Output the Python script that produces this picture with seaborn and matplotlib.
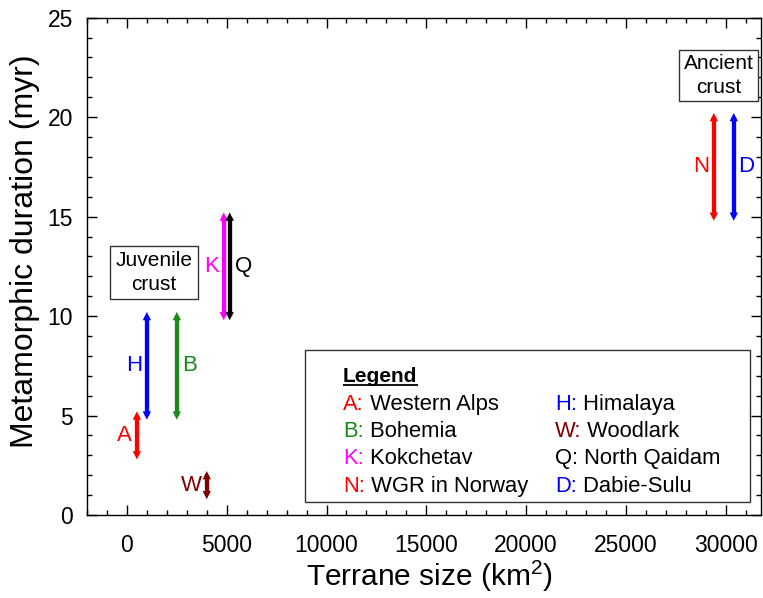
import matplotlib
matplotlib.use("Agg")
import matplotlib.pyplot as plt
from matplotlib.patches import Rectangle
import seaborn as sns
import pandas as pd

# Terrane data: code letter, full name, terrane size (km^2), duration range (myr)
codes = ["A", "H", "B", "W", "K", "Q", "N", "D"]
names = ["Western Alps", "Himalaya", "Bohemia", "Woodlark",
         "Kokchetav", "North Qaidam", "WGR in Norway", "Dabie-Sulu"]
sizes = [500, 1000, 2500, 4000, 4850, 5150, 29400, 30400]
dur_min = [3, 5, 5, 1, 10, 10, 15, 15]
dur_max = [5, 10, 10, 2, 15, 15, 20, 20]
colors = ["#ff0000", "#0000ff", "#1a8a1a", "#800000",
          "#ff00ff", "#000000", "#ff0000", "#0000ff"]
label_side = ["left", "left", "right", "left", "left", "right", "left", "right"]

# Legend layout (two columns, by code)
legend_col1 = ["A", "B", "K", "N"]
legend_col2 = ["H", "W", "Q", "D"]

sns.set_style("ticks")
plt.rcParams["font.family"] = ["Liberation Sans", "DejaVu Sans"]
plt.rcParams["mathtext.fontset"] = "custom"
plt.rcParams["mathtext.rm"] = "Liberation Sans"
plt.rcParams["mathtext.it"] = "Liberation Sans:italic"
for key in ["text.color", "axes.labelcolor", "xtick.color", "ytick.color",
            "axes.edgecolor"]:
    plt.rcParams[key] = "black"

fig = plt.figure(figsize=(7.63, 5.98), dpi=100)
ax = fig.add_axes([0.114, 0.1388, 0.883, 0.8316])

# Long-form table for the vertical range bars and their end caps
rows = []
for c, s, lo, hi in zip(codes, sizes, dur_min, dur_max):
    rows.append({"code": c, "size": s, "duration": lo, "end": "low"})
    rows.append({"code": c, "size": s, "duration": hi, "end": "high"})
df = pd.DataFrame(rows)
palette = dict(zip(codes, colors))

sns.lineplot(data=df, x="size", y="duration", hue="code", units="code",
             estimator=None, sort=False, palette=palette, linewidth=3.1,
             solid_capstyle="butt", legend=False, ax=ax)
sns.scatterplot(data=df[df["end"] == "high"], x="size", y="duration", hue="code",
                palette=palette, marker="^", s=36, linewidth=0, legend=False,
                ax=ax, zorder=3)
sns.scatterplot(data=df[df["end"] == "low"], x="size", y="duration", hue="code",
                palette=palette, marker="v", s=36, linewidth=0, legend=False,
                ax=ax, zorder=3)

# Code letters beside each bar
for c, s, lo, hi, col, side in zip(codes, sizes, dur_min, dur_max, colors, label_side):
    off = -3.5 if side == "left" else 3.5
    ax.annotate(c, xy=(s, (lo + hi) / 2), xytext=(off, 0), textcoords="offset points",
                ha="right" if side == "left" else "left", va="center",
                color=col, fontsize=16)

ax.set_xlim(-2000, 31750)
ax.set_ylim(0, 25)
ax.set_xticks(range(0, 30001, 5000))
ax.set_xticks(range(-2000, 31001, 1000), minor=True)
ax.set_yticks(range(0, 26, 5))
ax.set_yticks(range(0, 26, 1), minor=True)

for side in ["top", "right", "bottom", "left"]:
    ax.spines[side].set_visible(True)
    ax.spines[side].set_linewidth(1.0)
    ax.spines[side].set_color("black")

ax.tick_params(which="both", direction="in", top=True, right=True,
               color="black", width=1.0)
ax.tick_params(which="major", length=7)
ax.tick_params(which="minor", length=3.5)
ax.tick_params(axis="x", which="major", labelsize=16.5, pad=14)
ax.tick_params(axis="y", which="major", labelsize=16.5, pad=10)

ax.set_xlabel(r"Terrane size (km$^{\mathregular{2}}$)", fontsize=21.5)
ax.set_ylabel("Metamorphic duration (myr)", fontsize=23)
ax.xaxis.set_label_coords(0.509, -0.089)
ax.yaxis.set_label_coords(-0.0698, 0.531)

# Crust-type annotations
ax.text(1350, 12.2, "Juvenile\ncrust", ha="center", va="center", fontsize=15,
        linespacing=1.3,
        bbox=dict(boxstyle="square,pad=0.25", fc="white", ec="#333333", lw=1.0))
ax.text(29650, 22.1, "Ancient\ncrust", ha="center", va="center", fontsize=15,
        linespacing=1.3,
        bbox=dict(boxstyle="square,pad=0.22", fc="white", ec="#333333", lw=1.0))

# Legend panel
ax.add_patch(Rectangle((0.3236, 0.027), 0.6604, 0.3055, transform=ax.transAxes,
                       fc="white", ec="#333333", lw=1.0, zorder=5))
ax.text(0.380, 0.2775, "Legend", transform=ax.transAxes, fontsize=15,
        fontweight="bold", va="center", ha="left", zorder=6)
ax.plot([0.380, 0.4915], [0.2614, 0.2614], transform=ax.transAxes, color="black",
        lw=1.3, zorder=6, solid_capstyle="butt")

row_y = [0.2232, 0.1689, 0.1146, 0.0583]
for col_x, col_codes in [(0.380, legend_col1), (0.6947, legend_col2)]:
    for y, c in zip(row_y, col_codes):
        i = codes.index(c)
        t = ax.text(col_x, y, c + ":", transform=ax.transAxes, fontsize=15.8,
                    color=colors[i], va="center", ha="left", zorder=6)
        ax.annotate(" " + names[i], xy=(1, 0), xycoords=t, va="bottom", ha="left",
                    fontsize=15.8, color="black", zorder=6)

fig.savefig("out.png", dpi=100, facecolor="white")
